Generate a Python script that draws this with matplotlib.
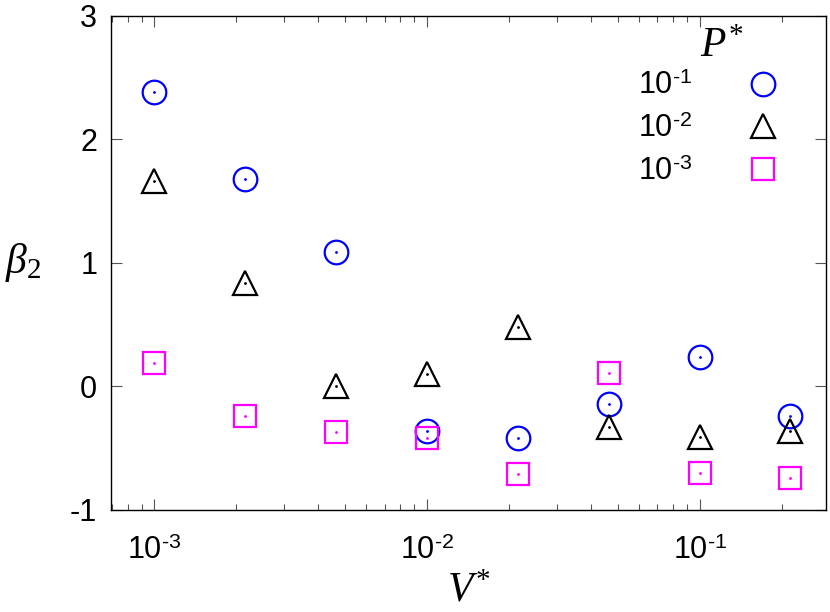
import matplotlib
matplotlib.use("Agg")
import matplotlib.pyplot as plt
from matplotlib.lines import Line2D
from matplotlib.ticker import LogLocator, FixedLocator

plt.rcParams["font.family"] = ["Liberation Sans", "DejaVu Sans"]
plt.rcParams["mathtext.fontset"] = "custom"
plt.rcParams["mathtext.rm"] = "Liberation Sans"
plt.rcParams["mathtext.it"] = "Liberation Serif:italic"
plt.rcParams["mathtext.bf"] = "Liberation Serif"
plt.rcParams["axes.unicode_minus"] = False

# V* values (3 per decade)
v_star = [1e-3, 2.15e-3, 4.64e-3, 1e-2, 2.15e-2, 4.64e-2, 1e-1, 2.15e-1]

# beta_2 for each P*
beta_p1 = [2.38, 1.68, 1.09, -0.36, -0.42, -0.14, 0.24, -0.24]   # P* = 1e-1
beta_p2 = [1.66, 0.84, 0.00, 0.10, 0.48, -0.33, -0.41, -0.36]    # P* = 1e-2
beta_p3 = [0.19, -0.24, -0.37, -0.42, -0.71, 0.11, -0.70, -0.74] # P* = 1e-3

x_ticks = [1e-3, 1e-2, 1e-1]
x_ticklabels = ["10$^{\u20103}$", "10$^{\u20102}$", "10$^{\u20101}$"]
y_ticks = [-1, 0, 1, 2, 3]
y_ticklabels = ["-1", "0", "1", "2", "3"]

series = [
    (beta_p1, "o", "#0000ff", "10$^{\u20101}$", 17),
    (beta_p2, "^", "#000000", "10$^{\u20102}$", 17),
    (beta_p3, "s", "#ff00ff", "10$^{\u20103}$", 16),
]

fig = plt.figure(figsize=(8.3, 6.12), dpi=100)
ax = fig.add_axes([0.134, 0.167, 0.861, 0.807])

handles = []
for vals, mk, col, lab, ms in series:
    ax.plot(v_star, vals, linestyle="none", marker=mk, markersize=ms,
            markerfacecolor="none", markeredgecolor=col, markeredgewidth=1.6)
    ax.plot(v_star, vals, linestyle="none", marker=".", markersize=2, color=col)
    handles.append(Line2D([], [], linestyle="none", marker=mk, markersize=ms,
                          markerfacecolor="none", markeredgecolor=col,
                          markeredgewidth=1.6, label=lab))

ax.set_xscale("log")
ax.set_xlim(6.96e-4, 0.29)
ax.set_ylim(-1, 3)
ax.xaxis.set_major_locator(FixedLocator(x_ticks))
ax.set_xticklabels(x_ticklabels)
ax.xaxis.set_minor_locator(LogLocator(base=10, subs=range(2, 10)))
ax.xaxis.set_minor_formatter(plt.NullFormatter())
ax.set_yticks(y_ticks)
ax.set_yticklabels(y_ticklabels)

ax.tick_params(which="both", direction="in", top=True, right=True,
               labelsize=22, width=0.8, color="#555555")
ax.tick_params(which="major", length=8, pad=10)
ax.tick_params(axis="x", which="major", pad=19)
ax.tick_params(which="minor", length=4)
for s in ax.spines.values():
    s.set_linewidth(1.0)

ax.set_xlabel(r"$V^\mathbf{*}$", fontsize=30, labelpad=3)
ax.set_ylabel(r"$\beta_\mathbf{2}$", fontsize=30, rotation=0, labelpad=34, va="center")

# legend title
ax.text(0.855, 0.94, r"$P^\mathbf{*}$", transform=ax.transAxes,
        fontsize=30, ha="center", va="center")
ax.legend(handles=handles, loc="upper right", frameon=False,
          markerfirst=False, fontsize=22, handletextpad=1.55, labelspacing=0.42,
          borderpad=0, borderaxespad=0, handlelength=1.5,
          bbox_to_anchor=(0.944, 0.888))

fig.savefig("out.png", dpi=100)
